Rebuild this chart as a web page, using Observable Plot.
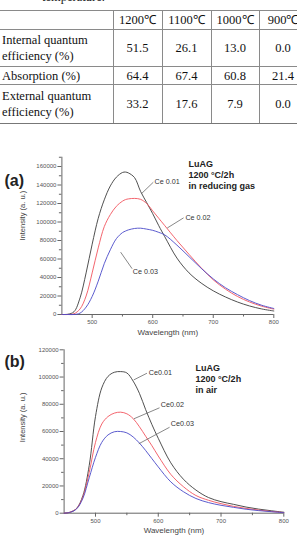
<!DOCTYPE html>
<html>
<head>
<meta charset="utf-8">
<script src="https://cdn.jsdelivr.net/npm/d3@7"></script>
<script src="https://cdn.jsdelivr.net/npm/@observablehq/plot@0.6"></script>
<style>
  html, body { margin: 0; padding: 0; background: #fff; }
  body { position: relative; width: 297px; height: 538px; overflow: hidden; }
  #caption {
    position: absolute; left: 42px; top: -10px;
    font: 12.5px "Liberation Serif", "Times New Roman", serif; color: #222;
  }
  #qe {
    position: absolute; left: 0; top: 10px;
    border-collapse: collapse; table-layout: fixed; width: 307px;
    font-family: "Liberation Serif", "Times New Roman", serif;
    font-size: 12.5px; color: #111;
  }
  #qe td {
    border: 1px solid #8a8a8a; padding: 0; line-height: 16px;
    text-align: center; vertical-align: middle; white-space: nowrap;
  }
  #qe td:first-child { border-left: none; text-align: left; padding-left: 2px; }
  #qe tr:last-child td { border-bottom: 1.5px solid #777; }
  .chart { position: absolute; left: 0; }
  #chartA { top: 140px; }
  #chartB { top: 340px; }
</style>
</head>
<body>
<div id="caption">temperature.</div>
<table id="qe"></table>
<div id="chartA" class="chart"></div>
<div id="chartB" class="chart"></div>
<script>
// ---- Quantum efficiency table ----
const temperatures = ["1200℃", "1100℃", "1000℃", "900℃"];
const rowLabels = ["Internal quantum<br>efficiency (%)", "Absorption (%)", "External quantum<br>efficiency (%)"];
const internalQE = ["51.5", "26.1", "13.0", "0.0"];
const absorption = ["64.4", "67.4", "60.8", "21.4"];
const externalQE = ["33.2", "17.6", "7.9", "0.0"];

// ---- Emission spectra, (a) 1200 °C/2h in reducing gas ----
const wavelengthA = [450, 460, 470, 480, 490, 500, 510, 520, 530, 540, 550, 555, 560, 570, 580, 590, 600, 610, 620, 640, 660, 680, 700, 720, 740, 760, 780, 800];
const ce001A = [0, 300, 3000, 18000, 45000, 76000, 104000, 124000, 139000, 148500, 153500, 154000, 153000, 148000, 133000, 121000, 109000, 96000, 84000, 61000, 45000, 34000, 25600, 19000, 13500, 9200, 6000, 3800];
const ce002A = [0, 0, 800, 6000, 20000, 45000, 72000, 95000, 108000, 117000, 122500, 124200, 125000, 125500, 124500, 120000, 112000, 104000, 96000, 80000, 65000, 50500, 37500, 27500, 19500, 13500, 9000, 5800];
const ce003A = [0, 0, 0, 1500, 8000, 19500, 36000, 55000, 70000, 82000, 88500, 90200, 91500, 93000, 93300, 92300, 91000, 88800, 86000, 75000, 62500, 50000, 38500, 29000, 21500, 15000, 10000, 6500];

// ---- Emission spectra, (b) 1200 °C/2h in air ----
const wavelengthB = [450, 460, 470, 480, 490, 500, 510, 520, 530, 540, 550, 560, 570, 580, 590, 600, 620, 640, 660, 680, 700, 720, 740, 760, 780, 800];
const ce001B = [0, 800, 3500, 13000, 35000, 71000, 92000, 100500, 103500, 104000, 103000, 97000, 88000, 76000, 65000, 55000, 37000, 25000, 17000, 11500, 8500, 6500, 4500, 3000, 1800, 700];
const ce002B = [0, 800, 3500, 12000, 30000, 52000, 65500, 71000, 73500, 74200, 73000, 69500, 63500, 56500, 49500, 42000, 28500, 19500, 13000, 9500, 7000, 5000, 3500, 2300, 1300, 500];
const ce003B = [0, 700, 3200, 11000, 26000, 41000, 52000, 57500, 59800, 60000, 59000, 56000, 51500, 46000, 40000, 34000, 23000, 15800, 10800, 7800, 5800, 4300, 2900, 1900, 1100, 400];

// ---- Series names, colours, axis ticks ----
const seriesA = ["Ce 0.01", "Ce 0.02", "Ce 0.03"];
const seriesB = ["Ce0.01", "Ce0.02", "Ce0.03"];
const seriesColors = ["#3c3c3c", "#f2545e", "#4a4ac8"];
const xTicks = [500, 600, 700, 800];
const xMinorTicks = [550, 650, 750];
const yTicksA = [0, 20000, 40000, 60000, 80000, 100000, 120000, 140000, 160000];
const yMinorTicksA = [10000, 30000, 50000, 70000, 90000, 110000, 130000, 150000, 170000];
const yTicksB = [0, 20000, 40000, 60000, 80000, 100000, 120000];
const yMinorTicksB = [10000, 30000, 50000, 70000, 90000, 110000];

// ---- Callout labels: leader line from curve to label ----
const calloutFromA = [[582, 131000], [624, 93500], [547, 67400]];
const calloutToA = [[601, 143000], [651, 104500], [566, 49500]];
const calloutTextA = [[603, 144100], [654, 105200], [567, 46800]];
const calloutFromB = [[561, 97900], [561, 69300], [569, 51000]];
const calloutToB = [[582, 102800], [602, 77400], [618, 63100]];
const calloutTextB = [[585, 103500], [604, 79800], [620, 65600]];

// Build table
const table = document.getElementById("qe");
const colWidths = [113, 49, 49, 48, 48];
const colgroup = document.createElement("colgroup");
colWidths.forEach(w => { const c = document.createElement("col"); c.style.width = w + "px"; colgroup.appendChild(c); });
table.appendChild(colgroup);
const rowHeights = [19, 37, 18, 39];
const rows = [["", ...temperatures], [rowLabels[0], ...internalQE], [rowLabels[1], ...absorption], [rowLabels[2], ...externalQE]];
rows.forEach((r, i) => {
  const tr = document.createElement("tr");
  tr.style.height = rowHeights[i] + "px";
  r.forEach(v => { const td = document.createElement("td"); td.innerHTML = v; tr.appendChild(td); });
  table.appendChild(tr);
});

function toRows(wavelength, seriesValues, names) {
  return names.flatMap((name, k) => wavelength.map((w, i) => ({wavelength: w, intensity: seriesValues[k][i], series: name})));
}

function spectrum({rows, names, yDomain, yTicks, yMinor, margins, panel, note, noteOffset, panelOffset, yLabelOffset, from, to, textAt}) {
  const links = names.map((n, i) => ({x1: from[i][0], y1: from[i][1], x2: to[i][0], y2: to[i][1]}));
  const labels = names.map((n, i) => ({x: textAt[i][0], y: textAt[i][1], text: n}));
  const axisColor = "#666";
  return Plot.plot({
    width: 297,
    height: 200 - (margins.shrink || 0),
    marginLeft: margins.left, marginRight: margins.right,
    marginTop: margins.top, marginBottom: margins.bottom,
    x: {domain: [450, 800]},
    y: {domain: yDomain},
    color: {domain: names, range: seriesColors},
    style: {fontFamily: "'Liberation Sans', Arial, sans-serif", background: "transparent", overflow: "visible"},
    marks: [
      Plot.axisX({ticks: xTicks, tickSize: 4, tickPadding: 1.5, fontSize: 6, stroke: axisColor, fill: "#555", label: null}),
      Plot.axisX({ticks: xMinorTicks, tickSize: 2.5, tickFormat: () => "", stroke: axisColor, label: null}),
      Plot.axisY({ticks: yTicks, tickSize: 4, tickPadding: 1.5, fontSize: 6, tickFormat: d => String(d), stroke: axisColor, fill: "#555", label: null}),
      Plot.axisY({ticks: yMinor, tickSize: 2.5, tickFormat: () => "", stroke: axisColor, label: null}),
      Plot.ruleX([450], {stroke: axisColor, strokeWidth: 1}),
      Plot.ruleY([0], {stroke: axisColor, strokeWidth: 1}),
      Plot.line(rows, {x: "wavelength", y: "intensity", stroke: "series", z: "series", strokeWidth: 0.9, curve: "catmull-rom"}),
      Plot.link(links, {x1: "x1", y1: "y1", x2: "x2", y2: "y2", stroke: "#555", strokeWidth: 0.7}),
      Plot.text(labels, {x: "x", y: "y", text: "text", textAnchor: "start", fontSize: 7.2, fill: "#333"}),
      Plot.text(["Wavelength (nm)"], {frameAnchor: "bottom", dy: 20, fontSize: 8, fill: "#444"}),
      Plot.text(["Intensity (a. u.)"], {frameAnchor: "left", rotate: -90, dx: yLabelOffset[0], dy: yLabelOffset[1], fontSize: 7.5, fill: "#444"}),
      Plot.text([panel], {frameAnchor: "top-left", dx: panelOffset[0], dy: panelOffset[1], textAnchor: "start", fontSize: 16, fontWeight: "bold", fill: "#222"}),
      Plot.text([note], {frameAnchor: "top-left", dx: noteOffset[0], dy: noteOffset[1], textAnchor: "start", lineAnchor: "middle", lineHeight: 1.22, fontSize: 9, fontWeight: "bold", fill: "#222"})
    ]
  });
}

document.getElementById("chartA").appendChild(spectrum({
  rows: toRows(wavelengthA, [ce001A, ce002A, ce003A], seriesA),
  names: seriesA,
  yDomain: [0, 170000], yTicks: yTicksA, yMinor: yMinorTicksA,
  margins: {left: 61.4, right: 23.7, top: 16.75, bottom: 26},
  panel: "(a)", panelOffset: [-57.4, 17],
  note: "LuAG\n1200 °C/2h\nin reducing gas", noteOffset: [126.6, 17.25],
  yLabelOffset: [-39.4, 4.6],
  from: calloutFromA, to: calloutToA, textAt: calloutTextA
}));

document.getElementById("chartB").appendChild(spectrum({
  rows: toRows(wavelengthB, [ce001B, ce002B, ce003B], seriesB),
  names: seriesB,
  yDomain: [0, 120000], yTicks: yTicksB, yMinor: yMinorTicksB,
  margins: {left: 63.6, right: 13.7, top: 9.3, bottom: 25.3, shrink: 2},
  panel: "(b)", panelOffset: [-59.6, 5.7],
  note: "LuAG\n1200 °C/2h\nin air", noteOffset: [131.4, 29],
  yLabelOffset: [-41.9, 10.7],
  from: calloutFromB, to: calloutToB, textAt: calloutTextB
}));
</script>
</body>
</html>
